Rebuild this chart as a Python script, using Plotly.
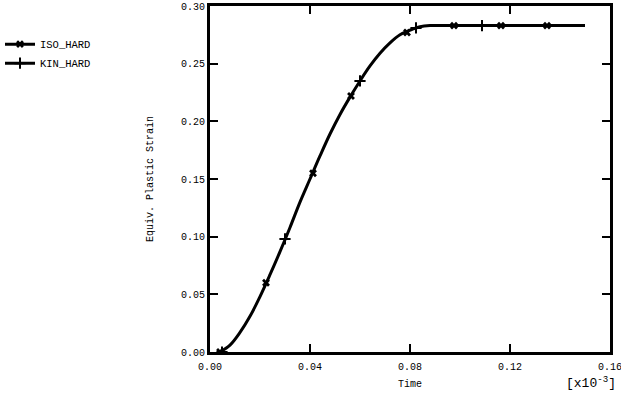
import plotly.graph_objects as go

# Curve (time in units of 1e-3, equivalent plastic strain)
time = [0.004, 0.008, 0.012, 0.016, 0.020, 0.024, 0.028, 0.032, 0.036, 0.040,
        0.044, 0.048, 0.052, 0.056, 0.060, 0.064, 0.068, 0.072, 0.076, 0.080,
        0.084, 0.088, 0.092, 0.100, 0.110, 0.120, 0.130, 0.140, 0.150]
strain = [0.000, 0.006, 0.017, 0.031, 0.048, 0.067, 0.087, 0.108, 0.130, 0.150,
          0.170, 0.189, 0.206, 0.221, 0.235, 0.248, 0.259, 0.268, 0.275, 0.279,
          0.282, 0.283, 0.283, 0.283, 0.283, 0.283, 0.283, 0.283, 0.283]

# Marker positions
iso_t = [0.004, 0.0224, 0.0412, 0.0564, 0.0788, 0.0976, 0.1164, 0.1348]
iso_s = [0.000, 0.060, 0.155, 0.222, 0.277, 0.283, 0.283, 0.283]
kin_t = [0.0048, 0.030, 0.060, 0.0824, 0.1088]
kin_s = [0.000, 0.098, 0.235, 0.281, 0.283]

font = "Liberation Mono, Courier New, monospace"

fig = go.Figure()
fig.add_trace(go.Scatter(x=time, y=strain, mode="lines", line=dict(color="black", width=3, shape="spline"),
                         showlegend=False, hoverinfo="skip"))
fig.add_trace(go.Scatter(x=iso_t, y=iso_s, mode="markers",
                         marker=dict(symbol="x", size=7, color="black"), showlegend=False))
fig.add_trace(go.Scatter(x=kin_t, y=kin_s, mode="markers",
                         marker=dict(symbol="cross-thin", size=8, color="black",
                                     line=dict(color="black", width=2)), showlegend=False))
# legend entries
fig.add_trace(go.Scatter(x=[None], y=[None], mode="lines+markers", name="ISO_HARD",
                         line=dict(color="black", width=3),
                         marker=dict(symbol="x", size=7, color="black")))
fig.add_trace(go.Scatter(x=[None], y=[None], mode="lines+markers", name="KIN_HARD",
                         line=dict(color="black", width=3),
                         marker=dict(symbol="cross-thin", size=8, color="black",
                                     line=dict(color="black", width=2))))

axis_common = dict(showline=True, linewidth=3, linecolor="black", mirror="ticks",
                   ticks="inside", ticklen=8, tickwidth=2, tickcolor="black",
                   showgrid=False, zeroline=False, tickformat=".2f", automargin=False,
                   ticklabeloverflow="allow",
                   tickfont=dict(family=font, size=10, color="black"))

fig.update_layout(
    template="none",
    width=621, height=395,
    margin=dict(l=210, r=11, t=6, b=43, autoexpand=False),
    paper_bgcolor="white", plot_bgcolor="white",
    font=dict(family=font, size=10, color="black"),
    xaxis=dict(range=[0, 0.16], tick0=0, dtick=0.04, ticklabelstandoff=3,
               title=dict(text="Time", font=dict(family=font, size=10, color="black"), standoff=8),
               **axis_common),
    yaxis=dict(range=[0, 0.30], tick0=0, dtick=0.05,
               title=dict(text="Equiv. Plastic Strain", font=dict(family=font, size=10, color="black"), standoff=26),
               **axis_common),
    legend=dict(xref="container", yref="container", x=0, y=0.925, xanchor="left", yanchor="top",
                font=dict(family=font, size=10.5, color="black"),
                bgcolor="rgba(0,0,0,0)", borderwidth=0, tracegroupgap=0),
    annotations=[dict(text="[x10<sup>-3</sup>]", xref="paper", yref="paper",
                      x=1.02, y=-0.118, xanchor="right", yanchor="bottom", showarrow=False,
                      font=dict(family=font, size=13, color="black"))],
)

fig.write_html("out.html", config={"displayModeBar": False},
               post_script="document.body.style.margin='0';document.documentElement.style.overflow='hidden';document.body.style.overflow='hidden';")
